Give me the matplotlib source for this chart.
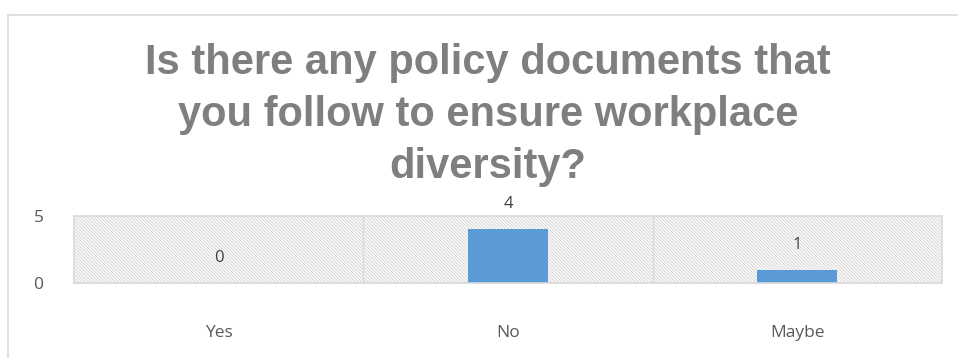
import matplotlib
matplotlib.use("Agg")
import matplotlib.pyplot as plt
from matplotlib.patches import Rectangle

# survey answers
categories = ["Yes", "No", "Maybe"]
counts = [0, 4, 1]
y_ticks = [0, 5]
title = "Is there any policy documents that\nyou follow to ensure workplace\ndiversity?"

plt.rcParams['font.family'] = ['Open Sans', 'DejaVu Sans']
plt.rcParams['hatch.color'] = '#d9d9d9'
plt.rcParams['hatch.linewidth'] = 0.8

W, H = 958, 358
fig = plt.figure(figsize=(W / 100, H / 100), dpi=100, facecolor='white')

# outer chart frame
fig.patches.append(Rectangle((8 / W, -0.1), 1.2, 1 - 15 / H + 0.1,
                             transform=fig.transFigure, fill=False,
                             edgecolor='#d9d9d9', linewidth=1.2))

fig.text(488 / W, 1 - 115 / H, title, ha='center', va='center',
         fontsize=30, fontweight='bold', color='#7f7f7f', linespacing=1.38,
         family=['Liberation Sans', 'DejaVu Sans'])

ax = fig.add_axes([74 / W, 1 - 283 / H, (942 - 74) / W, (283 - 216) / H])
x = range(len(categories))
ax.set_xlim(-0.5, len(categories) - 0.5)
ax.set_ylim(0, 5)

# hatched plot area with category separators
ax.axvspan(-0.5, len(categories) - 0.5, facecolor='white', hatch='\\' * 10,
           edgecolor='#d9d9d9', linewidth=0, zorder=0)
for b in range(1, len(categories)):
    ax.axvline(b - 0.5, color='#d9d9d9', linewidth=1, zorder=1)

bars = ax.bar(x, counts, width=0.277, color='#5b9bd5', zorder=2)
for xi, v in zip(x, counts):
    ax.annotate(str(v), (xi, v), xytext=(0, 18), textcoords='offset points',
                ha='center', va='center', fontsize=12, color='#404040')

for s in ax.spines.values():
    s.set_color('#d9d9d9')
    s.set_linewidth(1.2)

ax.set_yticks(y_ticks)
ax.set_xticks(list(x))
ax.set_xticklabels(categories)
ax.tick_params(axis='y', length=0, pad=22, labelsize=12.5, labelcolor='#595959')
ax.tick_params(axis='x', length=0, pad=30, labelsize=12.5, labelcolor='#595959')

fig.savefig("out.png", dpi=100, facecolor='white')
